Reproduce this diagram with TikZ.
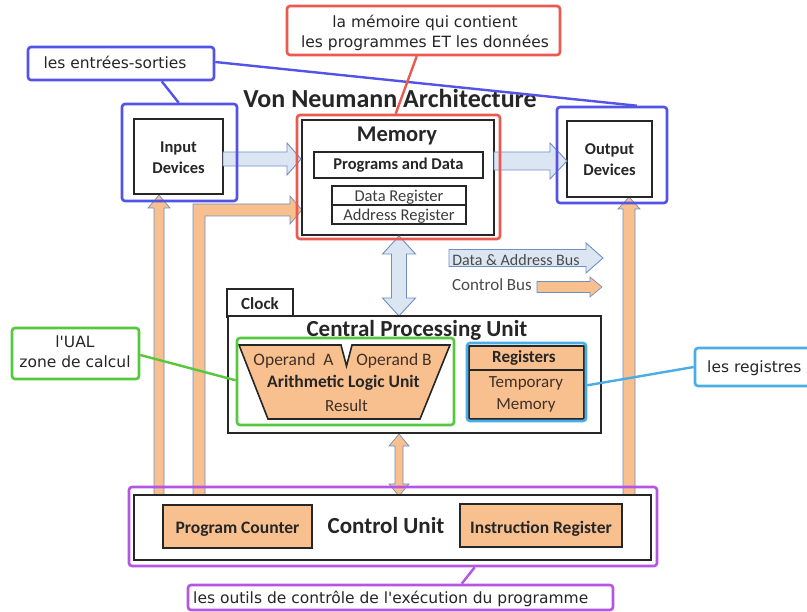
\documentclass[tikz,border=0pt]{standalone}
\usepackage{fontspec}
\setmainfont{Carlito}
\newfontfamily\annfont{DejaVu Sans}[Ligatures=TeXOff]
\usetikzlibrary{calc}
\definecolor{orng}{HTML}{F9C08F}
\definecolor{lblue}{HTML}{DCE6F2}
\definecolor{bout}{HTML}{6F8FC2}
\definecolor{annblue}{HTML}{5353E6}
\definecolor{annred}{HTML}{EA5A50}
\definecolor{anngreen}{HTML}{55C83E}
\definecolor{anncyan}{HTML}{4AADE6}
\definecolor{annpurple}{HTML}{B455E6}
\definecolor{txtgray}{HTML}{3C3C3C}
\definecolor{legtxt}{HTML}{4A4A4A}
\definecolor{alutxt}{HTML}{3F3127}
\definecolor{boxline}{HTML}{262626}
\newcommand{\myfs}[1]{\fontsize{#1}{#1}\selectfont}
\newcommand{\bkharrow}[7]{\draw[#1] (#2,#4-#5) -- (#3-#7,#4-#5) -- (#3-#7,#4-#6) -- (#3,#4) -- (#3-#7,#4+#6) -- (#3-#7,#4+#5) -- (#2,#4+#5) -- cycle;}
\newcommand{\bkuarrow}[7]{\draw[#1] (#2-#5,#3) -- (#2-#5,#4+#7) -- (#2-#6,#4+#7) -- (#2,#4) -- (#2+#6,#4+#7) -- (#2+#5,#4+#7) -- (#2+#5,#3) -- cycle;}
\newcommand{\bkdarrow}[7]{\draw[#1] (#2,#3) -- (#2+#6,#3+#7) -- (#2+#5,#3+#7) -- (#2+#5,#4-#7) -- (#2+#6,#4-#7) -- (#2,#4) -- (#2-#6,#4-#7) -- (#2-#5,#4-#7) -- (#2-#5,#3+#7) -- (#2-#6,#3+#7) -- cycle;}
\begin{document}
\begin{tikzpicture}[x=1pt,y=-1pt,
  box/.style={draw=boxline, line width=1.8pt, fill=white, inner sep=0pt, minimum width=#1},
  thinbox/.style={draw=boxline, line width=1.2pt, fill=white, inner sep=0pt},
  orbox/.style={draw=boxline, line width=1.6pt, fill=orng, inner sep=0pt},
  frame/.style={draw=#1, line width=2.6pt, rounded corners=3pt, inner sep=0pt},
  ann/.style={draw=#1, line width=2.6pt, rounded corners=3pt, fill=white, inner sep=0pt},
  annline/.style={draw=#1, line width=2.4pt},
  bluebus/.style={fill=lblue, draw=bout, line width=0.9pt, line join=miter},
  ctrlbus/.style={fill=orng, draw=bout, line width=0.7pt, line join=miter},
  lbl/.style={inner sep=0pt, anchor=base},
  anntxt/.style={inner sep=0pt, anchor=base, font=\annfont\myfs{15.5}, text=black!85},
]
\useasboundingbox (0,0) rectangle (807,612);
\fill[white] (0,0) rectangle (807,612);

% orange control-bus arrows running up from the control unit
\bkuarrow{ctrlbus}{159}{495}{195}{5}{11}{13}
\draw[ctrlbus] (193,495) -- (193,204) -- (290,204) -- (290,196) -- (302,210) -- (290,224) -- (290,216) -- (205,216) -- (205,495) -- cycle;
\bkuarrow{ctrlbus}{629}{495}{197}{6}{11}{12}

% title
\node[lbl, font=\bfseries\myfs{26}, text=black!85] (title) at (390,108) {Von Neumann Architecture};

% input / output
\node[box=89, minimum height=75] (input) at (178.5,156.5) {};
\node[lbl, font=\bfseries\myfs{16.5}, text=black!85] (inputt1) at (178.5,153) {Input};
\node[lbl, font=\bfseries\myfs{16.5}, text=black!85] (inputt2) at (178.5,174) {Devices};
\node[box=85, minimum height=76] (output) at (609.5,159) {};
\node[lbl, font=\bfseries\myfs{16.5}, text=black!85] (outputt1) at (609.5,155) {Output};
\node[lbl, font=\bfseries\myfs{16.5}, text=black!85] (outputt2) at (609.5,176) {Devices};

% memory
\node[box=192, minimum height=115] (memory) at (398,177.5) {};
\node[lbl, font=\bfseries\myfs{22.5}, text=black!85] (memt) at (397,142) {Memory};
\node[thinbox, line width=1.6pt, minimum width=169, minimum height=26] (progdata) at (398.5,165) {};
\node[lbl, font=\bfseries\myfs{16.5}, text=black!85] (progdatat) at (398.5,170) {Programs and Data};
\node[thinbox, minimum width=134, minimum height=19] (datareg) at (399,195.5) {};
\node[thinbox, minimum width=134, minimum height=19] (addrreg) at (399,214.5) {};
\node[lbl, font=\myfs{16.5}, text=txtgray] (dataregt) at (399,202) {Data Register};
\node[lbl, font=\myfs{16.5}, text=txtgray] (addrregt) at (399,220.5) {Address Register};

% buses
\bkharrow{bluebus}{223}{301}{159}{7}{16}{14}
\bkharrow{bluebus}{494}{567}{161}{9}{18}{17}
\bkdarrow{bluebus}{399}{236}{316}{7.5}{16.5}{18}
\bkdarrow{ctrlbus}{399}{434}{496}{4}{10}{12}

% legend
\bkharrow{bluebus}{449}{603}{258}{8.5}{15}{17}
\node[lbl, font=\myfs{16}, text=legtxt] (legdata) at (516,266) {Data \& Address Bus};
\node[lbl, font=\myfs{17}, text=legtxt] (legctrl) at (492,290.5) {Control Bus};
\bkharrow{ctrlbus}{537}{602}{287}{5.5}{10}{12}

% CPU
\node[box=66, minimum height=28] (clock) at (260,303) {};
\node[lbl, font=\bfseries\myfs{17}, text=black!85] (clockt) at (260,309.5) {Clock};
\node[box=373, minimum height=117] (cpu) at (414.5,374.5) {};
\node[lbl, font=\bfseries\myfs{23}, text=black!85] (cput) at (417,337) {Central Processing Unit};
\draw[fill=orng, draw=boxline, line width=1.6pt, line join=miter] (239,345) -- (341,345) -- (346.5,366) -- (352,345) -- (450,345) -- (420,419) -- (268,419) -- cycle;
\node[lbl, font=\myfs{17.5}, text=alutxt] (opa) at (293.5,366) {Operand\ \ A};
\node[lbl, font=\myfs{17.5}, text=alutxt] (opb) at (394,366) {Operand B};
\node[lbl, font=\bfseries\myfs{17.5}, text=black!85] (alut) at (343.5,388) {Arithmetic Logic Unit};
\node[lbl, font=\myfs{17}, text=alutxt] (result) at (346.5,411.5) {Result};
\node[orbox, minimum width=115, minimum height=73] (regs) at (526.5,382.5) {};
\draw[draw=boxline, line width=1.6pt] (regs.west |- 0,370) -- (regs.east |- 0,370);
\node[lbl, font=\bfseries\myfs{17}, text=black!85] (regst) at (524,362.5) {Registers};
\node[lbl, font=\myfs{17}, text=alutxt] (tempt1) at (526,388) {Temporary};
\node[lbl, font=\myfs{17}, text=alutxt] (tempt2) at (526,410) {Memory};

% control unit
\node[box=517, minimum height=65] (cu) at (392.5,527.5) {};
\node[orbox, minimum width=149, minimum height=43] (pc) at (237.5,526.5) {};
\node[lbl, font=\bfseries\myfs{17.5}, text=black!85] (pct) at (237.5,533) {Program Counter};
\node[lbl, font=\bfseries\myfs{23}, text=black!85] (cut) at (386,533) {Control Unit};
\node[orbox, minimum width=162, minimum height=43] (ir) at (541,525.5) {};
\node[lbl, font=\bfseries\myfs{17.5}, text=black!85] (irt) at (541,533) {Instruction Register};

% annotation frames
\node[frame=annblue, minimum width=115, minimum height=97] (inframe) at (179.5,152.5) {};
\node[frame=annblue, minimum width=110, minimum height=96] (outframe) at (612,155) {};
\node[frame=annred, minimum width=203, minimum height=124] (memframe) at (398.5,177) {};
\node[frame=anngreen, minimum width=217, minimum height=87] (aluframe) at (345.5,381.5) {};
\node[frame=anncyan, minimum width=119, minimum height=78] (regframe) at (526.5,382) {};
\node[frame=annpurple, minimum width=528, minimum height=79] (cuframe) at (393,526.5) {};

% annotation labels
\node[ann=annblue, minimum width=186, minimum height=33] (ioann) at (121,63.5) {};
\node[anntxt] (ioannt) at (115,68.5) {les entrées-sorties};
\node[ann=annred, minimum width=273, minimum height=49] (memann) at (423.5,30.5) {};
\node[anntxt] (memannt1) at (425,28) {la mémoire qui contient};
\node[anntxt] (memannt2) at (425,48) {les programmes ET les données};
\node[ann=anngreen, minimum width=127, minimum height=51] (aluann) at (75.5,353.5) {};
\node[anntxt] (aluannt1) at (75,348) {l'UAL};
\node[anntxt] (aluannt2) at (75,368) {zone de calcul};
\node[ann=anncyan, minimum width=120, minimum height=38] (regann) at (755,367) {};
\node[anntxt, anchor=base west] (regannt) at (707,373) {les registres};
\node[ann=annpurple, minimum width=425, minimum height=25] (cuann) at (400.5,597.5) {};
\node[anntxt, anchor=base west] (cuannt) at (193,603) {les outils de contrôle de l'exécution du programme};

% annotation connectors
\draw[annline=annblue] ($(ioann.south west)+(135,0)$) -- ($(inframe.north west)+(58,0)$);
\draw[annline=annblue] ($(ioann.east)+(0,-1.5)$) -- ($(outframe.north west)+(81,0)$);
\draw[annline=annred] ($(memann.south west)+(131,0)$) -- ($(memframe.north west)+(100,0)$);
\draw[annline=anngreen] ($(aluann.east)+(0,1.5)$) -- ($(aluframe.south west)+(0,-46)$);
\draw[annline=anncyan] ($(regframe.south east)+(0,-37)$) -- (regann.west);
\draw[annline=annpurple] ($(cuframe.south west)+(347,0)$) -- ($(cuann.north west)+(275,0)$);
\end{tikzpicture}
\end{document}
